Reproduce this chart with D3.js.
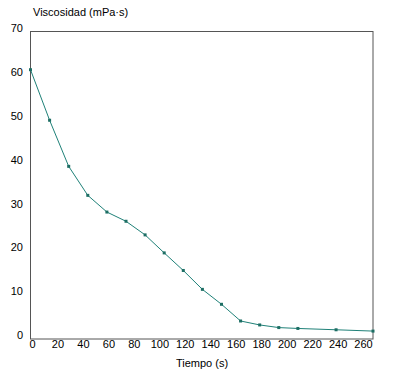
<!DOCTYPE html>
<html lang="es">
<head>
<meta charset="UTF-8">
<script src="https://d3js.org/d3.v7.min.js"></script>
<style>
  body { margin: 0; background: #fff; }
  text { font-family: "Liberation Sans", Arial, sans-serif; font-size: 11px; fill: #000; }
</style>
</head>
<body>
<div id="chart"></div>
<script>
// tiempo (s) y viscosidad (mPa·s)
const tiempo = [0, 15, 30, 45, 60, 75, 90, 105, 120, 135, 150, 165, 180, 195, 210, 240, 269];
const viscosidad = [61.3, 49.8, 39.3, 32.7, 28.9, 26.8, 23.7, 19.6, 15.6, 11.3, 7.9, 4.1, 3.2, 2.6, 2.4, 2.1, 1.8];
const xTicks = [0, 20, 40, 60, 80, 100, 120, 140, 160, 180, 200, 220, 240, 260];
const yTicks = [0, 10, 20, 30, 40, 50, 60, 70];

const W = 404, H = 376;
const x = d3.scaleLinear().domain([0, 269]).range([30.5, 373]);
const y = d3.scaleLinear().domain([0, 70]).range([339, 31.5]);

const svg = d3.select("#chart").append("svg")
    .attr("width", W).attr("height", H);

// marco
svg.append("rect")
    .attr("x", x(0)).attr("y", y(70))
    .attr("width", x(269) - x(0)).attr("height", y(0) - y(70))
    .attr("fill", "none").attr("stroke", "#555").attr("stroke-width", 1);

// etiquetas eje y
svg.selectAll(".ylab").data(yTicks).enter().append("text")
    .attr("x", 23).attr("y", d => y(d) - 3.5)
    .attr("dy", "0.35em")
    .attr("text-anchor", "end")
    .text(d => d);

// etiquetas eje x
svg.selectAll(".xlab").data(xTicks).enter().append("text")
    .attr("x", d => x(d) + 2).attr("y", 348)
    .attr("text-anchor", "middle")
    .text(d => d);

// titulos
svg.append("text").attr("x", 33).attr("y", 16).text("Viscosidad (mPa\u00b7s)");
svg.append("text").attr("x", 202).attr("y", 367).attr("text-anchor", "middle").text("Tiempo (s)");

const pts = tiempo.map((t, i) => [t, viscosidad[i]]);

svg.append("path")
    .datum(pts)
    .attr("fill", "none")
    .attr("stroke", "#1f8178")
    .attr("stroke-width", 1)
    .attr("d", d3.line().x(d => x(d[0])).y(d => y(d[1])));

svg.selectAll(".pt").data(pts).enter().append("rect")
    .attr("x", d => x(d[0]) - 1.5).attr("y", d => y(d[1]) - 1.5)
    .attr("width", 3).attr("height", 3)
    .attr("fill", "#1d6e64");
</script>
</body>
</html>
